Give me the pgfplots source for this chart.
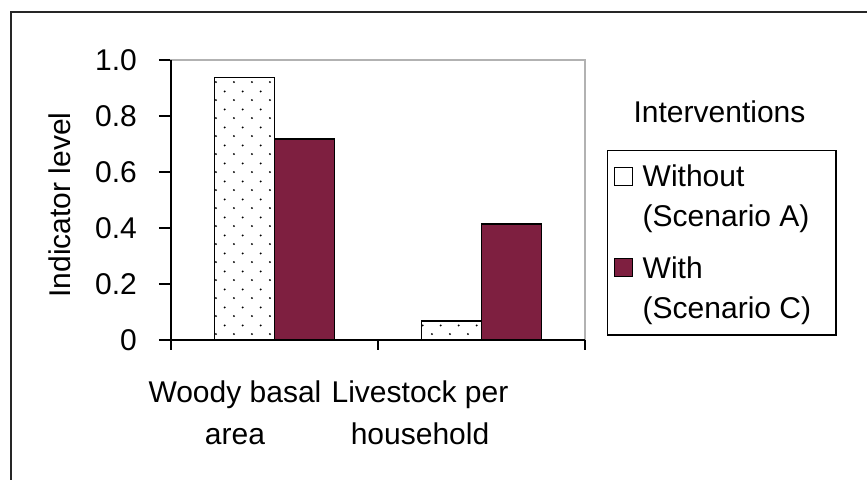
\documentclass[border=0pt]{standalone}
\usepackage{pgfplots}
\pgfplotsset{compat=1.18}
\usepackage{fontspec}
\setmainfont{Liberation Sans}
\usetikzlibrary{patterns}
\definecolor{maroon}{RGB}{126,31,64}
\pgfdeclarepatternformonly{sparsedots}{\pgfpointorigin}{\pgfqpoint{8.85pt}{8.8pt}}{\pgfqpoint{8.85pt}{8.8pt}}{%
  \pgfpathcircle{\pgfqpoint{2pt}{2pt}}{0.55pt}%
  \pgfpathcircle{\pgfqpoint{6.425pt}{6.4pt}}{0.55pt}%
  \pgfusepath{fill}}
\begin{document}
\begin{tikzpicture}[font=\fontsize{15}{21}\selectfont]
\useasboundingbox (-85.5pt,-69.5pt) rectangle (348pt,170pt);
\begin{axis}[
  scale only axis, width=207pt, height=140pt,
  xmin=-0.5, xmax=1.5, ymin=0, ymax=1,
  ybar=0pt, bar width=30pt,
  clip=false,
  axis line style={draw=gray!60, line width=0.6pt},
  ytick={0,0.2,0.4,0.6,0.8,1}, yticklabels={0,0.2,0.4,0.6,0.8,1.0},
  xtick={-0.191,0.703},
  xticklabels={Woody basal\\area, Livestock per\\household},
  xticklabel style={align=center, yshift=-11pt},
  yticklabel style={xshift=-7.5pt},
  tick align=outside,
  major tick length=6pt,
  xtick pos=bottom, ytick pos=left,
  xtick style={draw=none},
  ytick style={black, line width=1pt},
  ylabel={Indicator level},
  ylabel style={at={(axis description cs:-0.268,0.482)}, anchor=center},
  legend style={at={(rel axis cs:1.0531,0.6786)}, anchor=north west,
    draw=black, line width=0.75pt, row sep=9.5pt, inner xsep=3.5pt, inner ysep=5pt,
    cells={anchor=west, align=left},
    font=\fontsize{15}{20}\selectfont},
]
\addplot[draw=black, line width=0.8pt, pattern=sparsedots, pattern color=black,
  legend image code/.code={\pgfpathrectangle{\pgfpointorigin}{\pgfqpoint{12pt}{1pt}}\pgfusepath{use as bounding box}\draw[black, fill=white, line width=0.6pt] (0pt,6pt) rectangle (9pt,15pt);}]
  coordinates {(0,0.937) (1,0.068)};
\addlegendentry{Without\\(Scenario A)\hspace*{7pt}}
\addplot[draw=black, line width=0.8pt, fill=maroon,
  legend image code/.code={\pgfpathrectangle{\pgfpointorigin}{\pgfqpoint{12pt}{1pt}}\pgfusepath{use as bounding box}\draw[black, fill=maroon, line width=0.6pt] (0pt,6pt) rectangle (9pt,15pt);}]
  coordinates {(0,0.718) (1,0.414)};
\addlegendentry{With\\(Scenario C)\hspace*{7pt}}
\draw[black, line width=1pt] (rel axis cs:0,1) -- (rel axis cs:0,0) -- (rel axis cs:1,0);
\draw[black, line width=1pt] (axis cs:-0.5,0) -- ([yshift=-5pt]axis cs:-0.5,0);
\draw[black, line width=1pt] (axis cs:0.5,0) -- ([yshift=-5pt]axis cs:0.5,0);
\draw[black, line width=1pt] (axis cs:1.5,0) -- ([yshift=-5pt]axis cs:1.5,0);
\node[anchor=base] at (rel axis cs:1.3249,0.7786) {Interventions};
\end{axis}
\draw[line width=1pt, black!85] (-80pt,-100pt) -- (-80pt,164pt) -- (400pt,164pt);
\end{tikzpicture}
\end{document}
